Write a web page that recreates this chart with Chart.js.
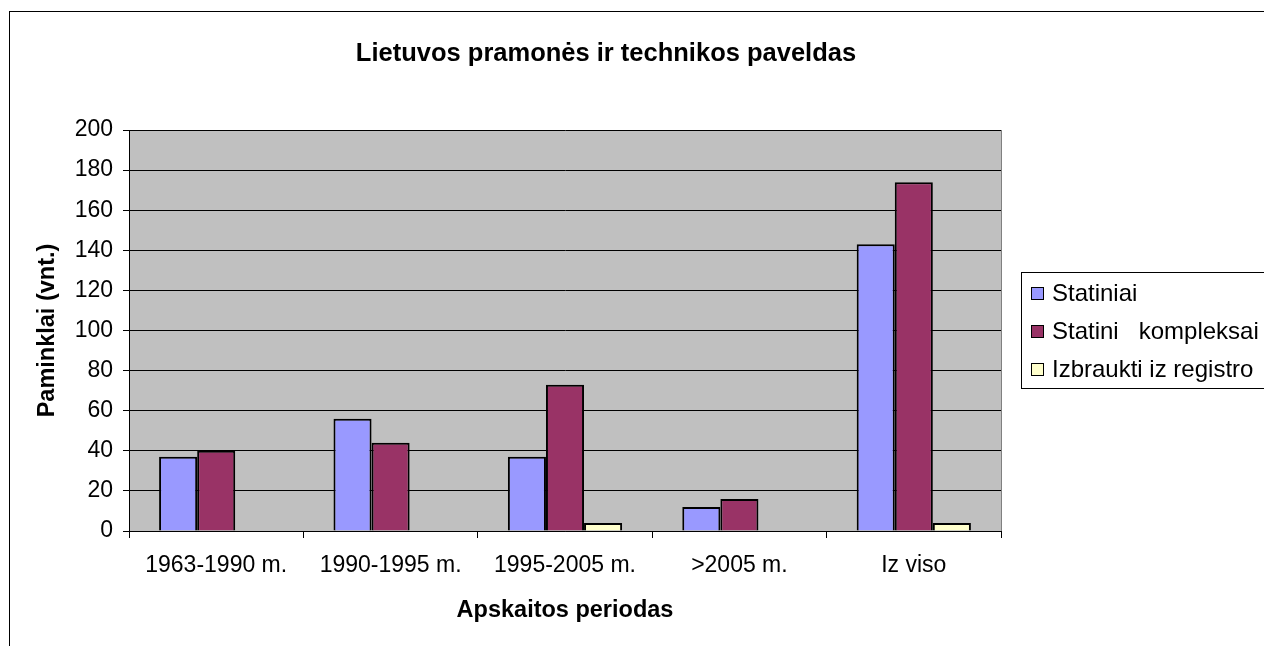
<!DOCTYPE html>
<html lang="lt">
<head>
<meta charset="utf-8">
<title>Lietuvos pramonės ir technikos paveldas</title>
<script src="https://cdn.jsdelivr.net/npm/chart.js@4"></script>
<style>
    html, body { margin: 0; padding: 0; background: #fff; }
    #wrap { position: relative; width: 1264px; height: 646px; }
</style>
</head>
<body>
<div id="wrap"><canvas id="heritage-chart"></canvas></div>
<script>
// Duomenys
const periods = ['1963-1990 m.', '1990-1995 m.', '1995-2005 m.', '>2005 m.', 'Iz viso'];
const seriesNames = ['Statiniai', 'Statini   kompleksai', 'Izbraukti iz registro'];
const statiniai = [37, 56, 37, 12, 143];
const kompleksai = [40, 44, 73, 16, 174];
const izbraukti = [0, 0, 4, 0, 4];
const seriesColors = ['#9999FF', '#993366', '#FFFFCC'];
const yTicks = [0, 20, 40, 60, 80, 100, 120, 140, 160, 180, 200];

const FONT = "'Liberation Sans', Arial, sans-serif";

/**
 * Fonas, rėmelis ir pilkas braižymo plotas
 */
const backgroundPlugin = {
    id: 'background',
    beforeDraw(chart) {
        const {ctx, chartArea} = chart;
        ctx.save();
        ctx.fillStyle = '#fff';
        ctx.fillRect(0, 0, chart.width, chart.height);
        ctx.strokeStyle = '#000';
        ctx.lineWidth = 1;
        ctx.strokeRect(9.5, 11.5, 1400, 800);
        ctx.fillStyle = '#C0C0C0';
        ctx.fillRect(chartArea.left, chartArea.top, chartArea.right - chartArea.left, chartArea.bottom - chartArea.top);
        ctx.restore();
    },
    beforeDatasetsDraw(chart) {
        // pilkas dešinysis kraštas
        const {ctx, chartArea} = chart;
        ctx.save();
        ctx.strokeStyle = '#808080';
        ctx.lineWidth = 1;
        ctx.beginPath();
        ctx.moveTo(Math.round(chartArea.right) + 0.5, chartArea.top);
        ctx.lineTo(Math.round(chartArea.right) + 0.5, chartArea.bottom);
        ctx.stroke();
        ctx.restore();
    }
};

/**
 * Legenda su rėmeliu (kaip Excel)
 */
const boxedLegendPlugin = {
    id: 'boxedLegend',
    afterDraw(chart) {
        const {ctx} = chart;
        const left = 1021, top = 272, rowGap = 38, firstRow = 293;
        ctx.save();
        ctx.strokeStyle = '#000';
        ctx.lineWidth = 1;
        ctx.strokeRect(left + 0.5, top + 0.5, 300, 116);
        ctx.font = '24px ' + FONT;
        ctx.textBaseline = 'middle';
        ctx.textAlign = 'left';
        chart.data.datasets.forEach((ds, i) => {
            const y = firstRow + i * rowGap;
            ctx.fillStyle = ds.backgroundColor;
            ctx.fillRect(left + 10, y - 6, 12, 12);
            ctx.strokeStyle = '#000';
            ctx.strokeRect(left + 10.5, y - 5.5, 12, 12);
            ctx.fillStyle = '#000';
            ctx.fillText(ds.label, left + 31, y + 1);
        });
        ctx.restore();
    }
};

const seriesData = [statiniai, kompleksai, izbraukti];

new Chart(document.getElementById('heritage-chart'), {
    type: 'bar',
    data: {
        labels: periods,
        datasets: seriesNames.map((name, i) => ({
            label: name,
            data: seriesData[i],
            backgroundColor: seriesColors[i],
            borderColor: '#000',
            borderWidth: 2,
            barPercentage: 1,
            categoryPercentage: 0.655
        }))
    },
    options: {
        responsive: true,
        maintainAspectRatio: false,
        animation: false,
        color: '#000',
        layout: { padding: { left: 0, top: 0, right: 52, bottom: 0 } },
        plugins: {
            legend: { display: false },
            tooltip: { enabled: false },
            title: {
                display: true,
                text: 'Lietuvos pramonės ir technikos paveldas',
                color: '#000',
                font: { family: FONT, size: 25.5, weight: 'bold' },
                padding: { top: 38.7, bottom: 60.7 }
            }
        },
        scales: {
            x: {
                grid: {
                    display: true,
                    drawOnChartArea: false,
                    drawTicks: true,
                    tickLength: 7,
                    tickColor: '#000',
                    offset: true
                },
                border: { display: true, color: '#000', width: 1 },
                ticks: {
                    color: '#000',
                    font: { family: FONT, size: 23 },
                    padding: 14,
                    maxRotation: 0,
                    autoSkip: false
                },
                title: {
                    display: true,
                    text: 'Apskaitos periodas',
                    color: '#000',
                    font: { family: FONT, size: 23.5, weight: 'bold' },
                    padding: { top: 0, bottom: 21 }
                },
                afterFit(scale) { scale.height = 115; }
            },
            y: {
                min: 0,
                max: 200,
                grid: {
                    color: '#000',
                    lineWidth: 1,
                    drawTicks: true,
                    tickLength: 6,
                    tickColor: '#000'
                },
                border: { display: true, color: '#000', width: 1 },
                ticks: {
                    stepSize: 20,
                    color: '#000',
                    font: { family: FONT, size: 23 },
                    padding: 10
                },
                afterBuildTicks(scale) { scale.ticks = yTicks.map(v => ({ value: v })); },
                title: {
                    display: true,
                    text: 'Paminklai (vnt.)',
                    color: '#000',
                    font: { family: FONT, size: 23.5, weight: 'bold' },
                    padding: { top: 33, bottom: 0 }
                },
                afterFit(scale) { scale.width = 129; }
            },
            // tuščia ašis vietai legendai dešinėje
            legendSpace: {
                type: 'linear',
                position: 'right',
                display: true,
                grid: { display: false },
                border: { display: false },
                ticks: { display: false },
                afterFit(scale) { scale.width = 211; }
            }
        }
    },
    plugins: [backgroundPlugin, boxedLegendPlugin]
});
</script>
</body>
</html>
